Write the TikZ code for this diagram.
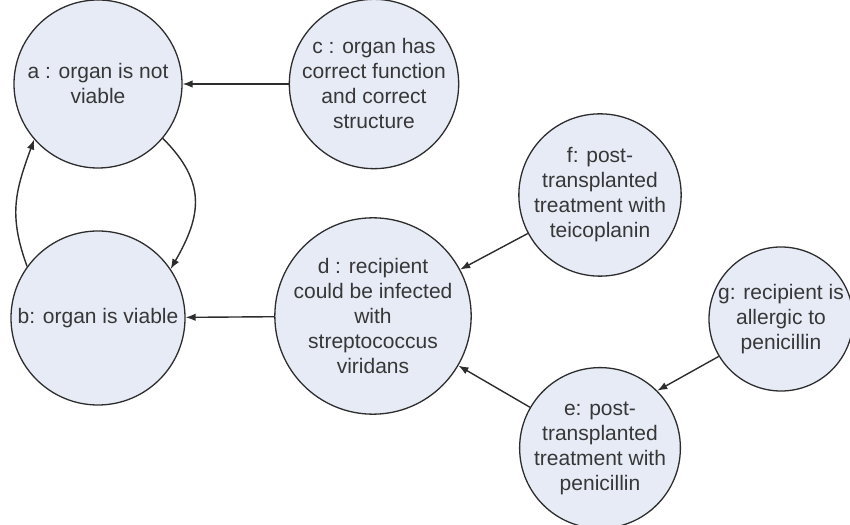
\documentclass[tikz,border=0pt]{standalone}
\usepackage{fontspec}
\setmainfont{Liberation Sans}
\usetikzlibrary{arrows.meta}
\definecolor{statefill}{RGB}{230,235,246}
\definecolor{edgegray}{RGB}{45,45,45}
\definecolor{labelgray}{RGB}{55,55,55}
\begin{document}
\begin{tikzpicture}[x=1pt,y=1pt,
  state/.style={circle, draw=edgegray, line width=1.3pt, fill=statefill,
    text=labelgray, inner sep=0pt, align=center,
    font=\fontsize{21}{25}\selectfont},
  link/.style={draw=edgegray, line width=1.4pt,
    -{Latex[length=10pt,width=7.5pt]}}]
\useasboundingbox[fill=white] (0,0) rectangle (850,524);

% states
\node[state, minimum size=168pt] (a) at (98,440) {a : organ is not\\viable};
\node[state, minimum size=174pt] (b) at (98,206) {b: organ is viable};
\node[state, minimum size=162pt] (c) at (374,440) {c : organ has\\correct function\\and correct\\structure};
\node[state, minimum size=170pt] (d) at (373,208) {d : recipient\\could be infected\\with\\streptococcus\\viridans};
\node[state, minimum size=144pt] (f) at (600,329) {f: post-\\transplanted\\treatment with\\teicoplanin};
\node[state, minimum size=144pt] (g) at (781,205) {g: recipient is\\allergic to\\penicillin};
\node[state, minimum size=146pt] (e) at (600,76) {e: post-\\transplanted\\treatment with\\penicillin};

% influences
\draw[link] (c.west) -- (a.east);
\draw[link] (d) -- (b);
\draw[link] (f) -- (d);
\draw[link] (e) -- (d);
\draw[link] (g.211) -- (e.45);
\draw[link] (a.-40) .. controls +(-45:62pt) and +(60:62pt) .. (b.34);
\draw[link] (b.144) .. controls +(110:55pt) and +(250:55pt) .. (a.221);
\end{tikzpicture}
\end{document}
